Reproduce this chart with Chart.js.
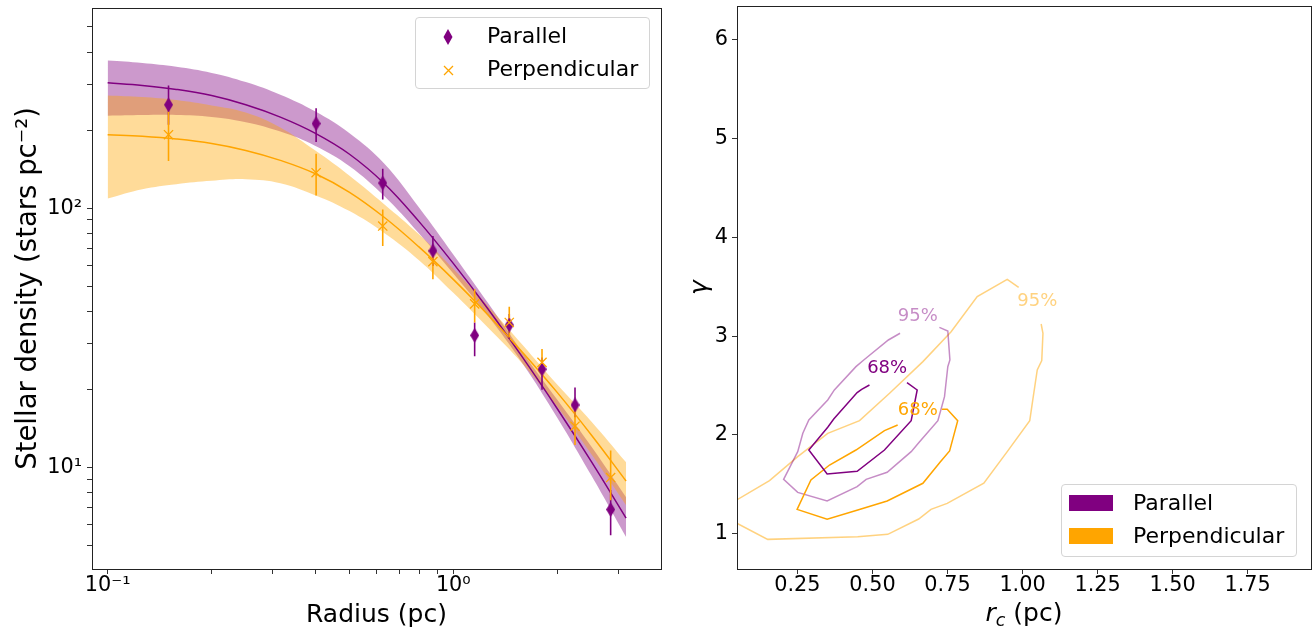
<!DOCTYPE html>
<html>
<head>
<meta charset="utf-8">
<script src="https://cdn.jsdelivr.net/npm/chart.js@4.4.1/dist/chart.umd.min.js"></script>
<style>
  body { margin: 0; background: #fff; width: 1315px; height: 630px; overflow: hidden; position: relative; font-family: "DejaVu Sans", sans-serif; }
  canvas { position: absolute; top: 0; }
  #profileChart { left: 0; }
  #contourChart { left: 680px; }
  .legend { position: absolute; border: 1px solid #d4d4d4; border-radius: 4px; background: rgba(255,255,255,0.8); box-sizing: border-box; }
  .legend span { position: absolute; font-size: 22px; line-height: 26px; color: #000; white-space: nowrap; }
  .legend svg, .legend i { position: absolute; display: block; }
</style>
</head>
<body>
<canvas id="profileChart" width="680" height="630"></canvas>
<canvas id="contourChart" width="635" height="630"></canvas>

<div class="legend" style="left:415px; top:17px; width:235px; height:72px;">
  <svg style="left:27px; top:11px;" width="10" height="16"><polygon points="5,0 9.5,8 5,16 0.5,8" fill="#800080"/></svg>
  <svg style="left:27px; top:47px;" width="11" height="11"><path d="M1 1 L10 10 M10 1 L1 10" stroke="#FFA500" stroke-width="1.3"/></svg>
  <span style="left:71px; top:5px;">Parallel</span>
  <span style="left:71px; top:38px;">Perpendicular</span>
</div>

<div class="legend" style="left:1061px; top:484px; width:236px; height:73px;">
  <i style="left:7px; top:10px; width:44px; height:16px; background:#800080;"></i>
  <i style="left:7px; top:43px; width:44px; height:16px; background:#FFA500;"></i>
  <span style="left:71px; top:5px;">Parallel</span>
  <span style="left:71px; top:38px;">Perpendicular</span>
</div>

<script>
// ---- left panel: radial density profile ----
const binRadius   = [0.150, 0.401, 0.625, 0.873, 1.153, 1.452, 1.806, 2.25, 2.853];
const parDensity  = [250.5, 212, 125, 68.4, 32.3, 35.4, 23.9, 17.4, 6.87];
const parErrLow   = [210, 180, 108, 59.8, 26.8, 31.3, 19.9, 15.6, 5.47];
const parErrHigh  = [297, 243, 142, 78, 36.2, 39.0, 26.5, 20.3, 8.17];
const perpDensity = [192, 137, 85.3, 62.2, 42.7, 36.2, 25.4, 14.4, 9.13];
const perpErrLow  = [152, 112, 71.4, 53.2, 36.2, 31.7, 22.6, 12.2, 7.46];
const perpErrHigh = [236, 162, 98.9, 71.4, 48.6, 41.6, 28.6, 16.6, 11.6];

const fitRadius    = [0.1, 0.126, 0.158, 0.2, 0.251, 0.316, 0.398, 0.501, 0.631, 0.794, 1.0, 1.259, 1.585, 1.995, 2.512, 3.162];
const parFit       = [304.5, 297.5, 287.2, 271.8, 250.5, 224.5, 194.7, 161.4, 124.5, 89.1, 61.2, 40.9, 26.6, 16.9, 10.5, 6.37];
const parBandHigh  = [370.9, 363.1, 351.1, 332.6, 306.6, 274.0, 236.5, 194.5, 148.6, 100.9, 66.2, 43.1, 27.8, 18.3, 12.0, 7.67];
const parBandLow   = [227.3, 228.7, 228.7, 224.9, 214.6, 197.4, 174.2, 145.2, 111.4, 80.2, 56.0, 38.4, 25.2, 15.6, 9.27, 5.38];
const perpFit      = [192.1, 189.4, 184.8, 177.5, 167.0, 152.9, 136.0, 115.1, 92.2, 71.0, 53.1, 38.8, 27.8, 19.5, 13.3, 8.85];
const perpBandHigh = [272.1, 268.5, 261.5, 249.0, 233.9, 204.9, 167.1, 133.4, 103.6, 79.4, 58.3, 42.0, 29.7, 20.9, 15.0, 10.45];
const perpBandLow  = [109.0, 118.3, 123.7, 127.5, 129.3, 124.8, 112.2, 97.4, 80.2, 63.1, 47.1, 34.6, 25.1, 17.2, 11.2, 7.14];

const radiusTicks       = [0.1, 0.2, 0.3, 0.4, 0.5, 0.6, 0.7, 0.8, 0.9, 1, 2, 3];
const radiusMajor       = [0.1, 1];
const radiusMajorLabels = ['10⁻¹', '10⁰'];
const densityTicks       = [5, 6, 7, 8, 9, 10, 20, 30, 40, 50, 60, 70, 80, 90, 100, 200, 300, 400, 500];
const densityMajor       = [10, 100];
const densityMajorLabels = ['10¹', '10²'];

// ---- right panel: rc / gamma confidence contours ----
const par68Rc     = [0.490, 0.464, 0.449, 0.371, 0.351, 0.288, 0.349, 0.449, 0.540, 0.629, 0.649, 0.615];
const par68Gamma  = [2.506, 2.462, 2.429, 2.162, 2.078, 1.848, 1.605, 1.632, 1.848, 2.145, 2.456, 2.530];
const par95Rc     = [0.592, 0.553, 0.471, 0.445, 0.373, 0.351, 0.288, 0.268, 0.251, 0.204, 0.251, 0.349, 0.449, 0.479, 0.549, 0.629, 0.657, 0.718, 0.740, 0.751, 0.758, 0.751, 0.723];
const par95Gamma  = [3.030, 2.962, 2.759, 2.692, 2.456, 2.354, 2.152, 2.017, 1.831, 1.551, 1.419, 1.332, 1.477, 1.551, 1.622, 1.831, 1.932, 2.145, 2.388, 2.692, 2.759, 3.053, 3.090];
const perp68Rc    = [0.584, 0.540, 0.445, 0.357, 0.295, 0.249, 0.349, 0.451, 0.549, 0.668, 0.725, 0.757, 0.784, 0.749, 0.731];
const perp68Gamma = [2.101, 2.044, 1.848, 1.696, 1.544, 1.247, 1.146, 1.241, 1.332, 1.511, 1.723, 1.838, 2.145, 2.260, 2.260];
const perp95Rc    = [0.048, 0.157, 0.251, 0.351, 0.457, 0.557, 0.668, 0.762, 0.849, 0.949, 0.987, null, 1.062, 1.068, 1.064, 1.049, 1.034, 1.024, 0.949, 0.871, 0.749, 0.695, 0.654, 0.551, 0.451, 0.151, 0.048];
const perp95Gamma = [1.342, 1.538, 1.781, 2.017, 2.145, 2.422, 2.743, 3.046, 3.401, 3.576, 3.495, null, 3.124, 3.030, 2.753, 2.658, 2.354, 2.145, 1.831, 1.511, 1.308, 1.247, 1.149, 0.994, 0.970, 0.943, 1.106];

const contourLabels     = ['68%', '95%', '68%', '95%'];
const contourLabelRc    = [0.549, 0.651, 0.651, 1.049];
const contourLabelGamma = [2.675, 3.198, 2.246, 3.350];

const rcTicks    = [0.25, 0.5, 0.75, 1.0, 1.25, 1.5, 1.75];
const rcLabels   = ['0.25', '0.50', '0.75', '1.00', '1.25', '1.50', '1.75'];
const gammaTicks = [1, 2, 3, 4, 5, 6];

// colours
const PURPLE = '#800080';
const ORANGE = '#FFA500';
const PURPLE_BAND = 'rgba(128,0,128,0.4)';
const ORANGE_BAND = 'rgba(255,165,0,0.4)';
const PURPLE_LIGHT = 'rgba(128,0,128,0.45)';
const ORANGE_LIGHT = 'rgba(255,165,0,0.5)';
const contourLabelColors = [PURPLE, PURPLE_LIGHT, ORANGE, ORANGE_LIGHT];

const FONT = 'DejaVu Sans';
Chart.defaults.font.family = FONT;
Chart.defaults.color = '#000';

function zip(xs, ys) {
    return xs.map((x, i) => ({ x: x, y: ys[i] }));
}

function errorBars(xs, lo, hi) {
    const pts = [];
    xs.forEach((x, i) => {
        pts.push({ x: x, y: lo[i] }, { x: x, y: hi[i] }, { x: null, y: null });
    });
    return pts;
}

// thin diamond marker like matplotlib 'd'
function diamondMarker() {
    const c = document.createElement('canvas');
    c.width = 9; c.height = 15;
    const g = c.getContext('2d');
    g.fillStyle = PURPLE;
    g.beginPath();
    g.moveTo(4.5, 0); g.lineTo(9, 7.5); g.lineTo(4.5, 15); g.lineTo(0, 7.5);
    g.closePath();
    g.fill();
    return c;
}

const frame = {
    id: 'frame',
    afterDraw(chart) {
        const { ctx, chartArea: a } = chart;
        ctx.save();
        ctx.strokeStyle = '#222';
        ctx.lineWidth = 1;
        ctx.strokeRect(Math.round(a.left) + 0.5, Math.round(a.top) + 0.5,
                       Math.round(a.right - a.left), Math.round(a.bottom - a.top));
        ctx.restore();
    }
};

function lineSet(data, color, width, order, extra) {
    return Object.assign({
        data: data, borderColor: color, borderWidth: width, pointRadius: 0,
        showLine: true, fill: false, tension: 0, spanGaps: false, order: order
    }, extra || {});
}

const smooth = { tension: 0.4 };

// Initialize left chart
function initProfileChart() {
    const ctx = document.getElementById('profileChart').getContext('2d');
    new Chart(ctx, {
        type: 'line',
        data: {
            datasets: [
                lineSet(zip(fitRadius, parBandHigh), 'rgba(0,0,0,0)', 0, 10,
                    Object.assign({ fill: '+1', backgroundColor: PURPLE_BAND }, smooth)),
                lineSet(zip(fitRadius, parBandLow), 'rgba(0,0,0,0)', 0, 10, smooth),
                lineSet(zip(fitRadius, perpBandHigh), 'rgba(0,0,0,0)', 0, 9,
                    Object.assign({ fill: '+1', backgroundColor: ORANGE_BAND }, smooth)),
                lineSet(zip(fitRadius, perpBandLow), 'rgba(0,0,0,0)', 0, 9, smooth),
                lineSet(zip(fitRadius, parFit), PURPLE, 1.5, 8, smooth),
                lineSet(zip(fitRadius, perpFit), ORANGE, 1.5, 7, smooth),
                lineSet(errorBars(binRadius, parErrLow, parErrHigh), PURPLE, 1.6, 6),
                lineSet(errorBars(binRadius, perpErrLow, perpErrHigh), ORANGE, 1.6, 5),
                {
                    data: zip(binRadius, parDensity), showLine: false, order: 4,
                    pointStyle: diamondMarker(), pointRadius: 6,
                    backgroundColor: PURPLE, borderColor: PURPLE
                },
                {
                    data: zip(binRadius, perpDensity), showLine: false, order: 3,
                    pointStyle: 'crossRot', pointRadius: 6.5, borderWidth: 1.3,
                    borderColor: ORANGE, backgroundColor: ORANGE
                }
            ]
        },
        options: {
            responsive: false,
            animation: false,
            layout: { padding: { top: 6, right: 19, left: 0, bottom: 0 } },
            plugins: { legend: { display: false }, tooltip: { enabled: false } },
            scales: {
                x: {
                    type: 'logarithmic',
                    min: 0.0901, max: 3.99,
                    border: { display: false },
                    grid: { drawOnChartArea: false, tickLength: 5, color: '#333' },
                    afterBuildTicks: (scale) => { scale.ticks = radiusTicks.map(v => ({ value: v })); },
                    afterFit: (scale) => { scale.height = 61; scale.paddingLeft = 0; scale.paddingRight = 0; },
                    ticks: {
                        autoSkip: false, maxRotation: 0, padding: 1,
                        font: { size: 20.8, lineHeight: 1 },
                        callback: (v) => {
                            const i = radiusMajor.indexOf(v);
                            return i >= 0 ? radiusMajorLabels[i] : '';
                        }
                    },
                    title: { display: true, text: 'Radius (pc)', font: { size: 25 }, padding: { top: 4, bottom: 0 } }
                },
                y: {
                    type: 'logarithmic',
                    min: 4.05, max: 593,
                    border: { display: false },
                    grid: { drawOnChartArea: false, tickLength: 5, color: '#333' },
                    afterBuildTicks: (scale) => { scale.ticks = densityTicks.map(v => ({ value: v })); },
                    afterFit: (scale) => { scale.width = 92; scale.paddingTop = 0; scale.paddingBottom = 0; },
                    ticks: {
                        autoSkip: false, padding: 5,
                        font: { size: 20.8, lineHeight: 1 },
                        callback: (v) => {
                            const i = densityMajor.indexOf(v);
                            return i >= 0 ? densityMajorLabels[i] : '';
                        }
                    },
                    title: { display: true, text: 'Stellar density (stars pc⁻²)', font: { size: 27.5 }, padding: { top: 12, bottom: 0 } }
                }
            }
        },
        plugins: [frame]
    });
}

const contourText = {
    id: 'contourText',
    afterDatasetsDraw(chart) {
        const { ctx, scales } = chart;
        ctx.save();
        ctx.font = '18px "' + FONT + '"';
        ctx.textAlign = 'center';
        ctx.textBaseline = 'middle';
        contourLabels.forEach((t, i) => {
            ctx.fillStyle = contourLabelColors[i];
            ctx.fillText(t, scales.x.getPixelForValue(contourLabelRc[i]), scales.y.getPixelForValue(contourLabelGamma[i]));
        });
        ctx.restore();
    }
};

// x title with italic r and subscript c
const rcTitle = {
    id: 'rcTitle',
    afterDraw(chart) {
        const { ctx, chartArea: a } = chart;
        const base = chart.height - 9;
        const big = 'italic 25px "' + FONT + '"';
        const small = 'italic 17.5px "' + FONT + '"';
        const norm = '25px "' + FONT + '"';
        ctx.save();
        ctx.fillStyle = '#000';
        ctx.textBaseline = 'alphabetic';
        ctx.font = big; const w1 = ctx.measureText('r').width;
        ctx.font = small; const w2 = ctx.measureText('c').width;
        ctx.font = norm; const w3 = ctx.measureText(' (pc)').width;
        let x = (a.left + a.right) / 2 - (w1 + w2 + w3) / 2;
        ctx.font = big; ctx.fillText('r', x, base); x += w1;
        ctx.font = small; ctx.fillText('c', x, base + 5); x += w2;
        ctx.font = norm; ctx.fillText(' (pc)', x, base);
        ctx.restore();
    }
};

function initContourChart() {
    const ctx = document.getElementById('contourChart').getContext('2d');
    new Chart(ctx, {
        type: 'line',
        data: {
            datasets: [
                lineSet(zip(perp95Rc, perp95Gamma), ORANGE_LIGHT, 1.5, 4),
                lineSet(zip(par95Rc, par95Gamma), PURPLE_LIGHT, 1.5, 3),
                lineSet(zip(perp68Rc, perp68Gamma), ORANGE, 1.5, 2),
                lineSet(zip(par68Rc, par68Gamma), PURPLE, 1.5, 1)
            ]
        },
        options: {
            responsive: false,
            animation: false,
            layout: { padding: { top: 6, right: 4, left: 0, bottom: 0 } },
            plugins: { legend: { display: false }, tooltip: { enabled: false } },
            scales: {
                x: {
                    type: 'linear',
                    min: 0.0487, max: 1.961,
                    border: { display: false },
                    grid: { drawOnChartArea: false, tickLength: 5, color: '#333' },
                    afterBuildTicks: (scale) => { scale.ticks = rcTicks.map(v => ({ value: v })); },
                    afterFit: (scale) => { scale.height = 61; scale.paddingLeft = 0; scale.paddingRight = 0; },
                    ticks: {
                        autoSkip: false, maxRotation: 0, padding: 1,
                        font: { size: 20.8, lineHeight: 1 },
                        callback: (v) => rcLabels[rcTicks.indexOf(v)]
                    },
                    title: { display: false }
                },
                y: {
                    type: 'linear',
                    min: 0.643, max: 6.344,
                    border: { display: false },
                    grid: { drawOnChartArea: false, tickLength: 5, color: '#333' },
                    afterBuildTicks: (scale) => { scale.ticks = gammaTicks.map(v => ({ value: v })); },
                    afterFit: (scale) => { scale.width = 57; scale.paddingTop = 0; scale.paddingBottom = 0; },
                    ticks: {
                        autoSkip: false, padding: 4,
                        font: { size: 20.8, lineHeight: 1 },
                        callback: (v) => String(v)
                    },
                    title: { display: true, text: 'γ', font: { size: 25, style: 'italic' }, padding: { top: 5, bottom: 0 } }
                }
            }
        },
        plugins: [frame, contourText, rcTitle]
    });
}

window.addEventListener('load', () => {
    initProfileChart();
    initContourChart();
});
</script>
</body>
</html>
